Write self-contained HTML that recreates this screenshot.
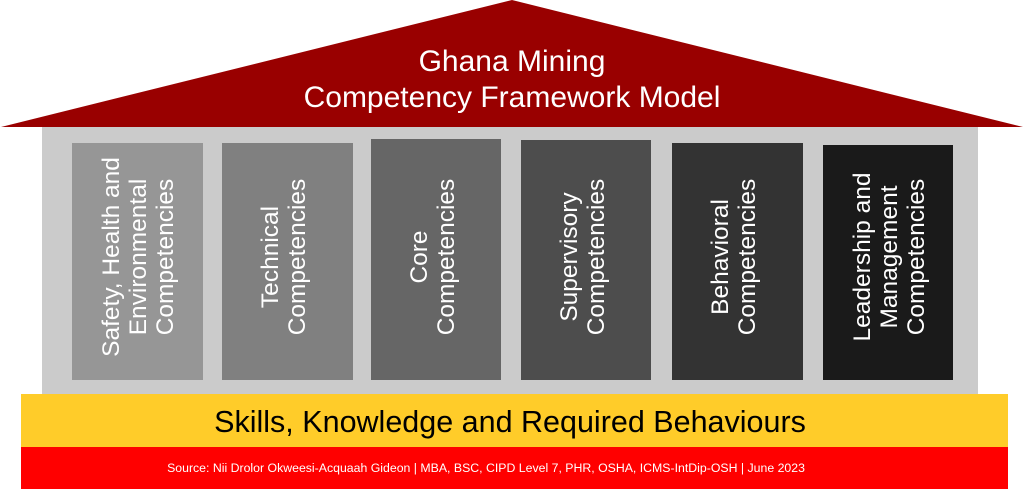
<!DOCTYPE html>
<html><head><meta charset="utf-8"><style>
html,body{margin:0;padding:0;background:#fff;width:1024px;height:489px;overflow:hidden}
text{font-family:"Liberation Sans",Arial,sans-serif}
</style></head><body>
<svg width="1024" height="489" viewBox="0 0 1024 489" xmlns="http://www.w3.org/2000/svg">
<rect x="42" y="126" width="936" height="270" fill="#cbcbcb"/>
<polygon points="512,0 1023,127 1,127" fill="#990000"/>
<text x="512" y="71" fill="#fff" font-size="30" text-anchor="middle">Ghana Mining</text>
<text x="512" y="107" fill="#fff" font-size="30" text-anchor="middle">Competency Framework Model</text>
<rect x="72" y="143" width="131" height="237" fill="#969696"/>
<rect x="222" y="143" width="131" height="237" fill="#808080"/>
<rect x="371" y="139" width="130" height="241" fill="#666666"/>
<rect x="521" y="140" width="130" height="240" fill="#4d4d4d"/>
<rect x="672" y="143" width="131" height="237" fill="#333333"/>
<rect x="823" y="145" width="130" height="235" fill="#1a1a1a"/>
<g fill="#fff" font-size="24.5" text-anchor="middle">
<g transform="translate(137,257) rotate(-90)"><text y="-18">Safety, Health and</text><text y="9">Environmental</text><text y="36">Competencies</text></g>
<g transform="translate(287,257) rotate(-90)"><text y="-9">Technical</text><text y="18">Competencies</text></g>
<g transform="translate(436,257) rotate(-90)"><text y="-9">Core</text><text y="18">Competencies</text></g>
<g transform="translate(586,257) rotate(-90)"><text y="-9">Supervisory</text><text y="18">Competencies</text></g>
<g transform="translate(737,257) rotate(-90)"><text y="-9">Behavioral</text><text y="18">Competencies</text></g>
<g transform="translate(888,257) rotate(-90)"><text y="-18">Leadership and</text><text y="9">Management</text><text y="36">Competencies</text></g>
</g>
<rect x="21" y="394" width="987" height="54" fill="#ffcc29"/>
<text x="510" y="432" fill="#000" font-size="30.5" text-anchor="middle">Skills, Knowledge and Required Behaviours</text>
<rect x="21" y="447" width="987" height="42" fill="#ff0000"/>
<text x="486" y="472" fill="#fff" font-size="12.3" text-anchor="middle">Source: Nii Drolor Okweesi-Acquaah Gideon | MBA, BSC, CIPD Level 7, PHR, OSHA, ICMS-IntDip-OSH | June 2023</text>
</svg>
</body></html>
